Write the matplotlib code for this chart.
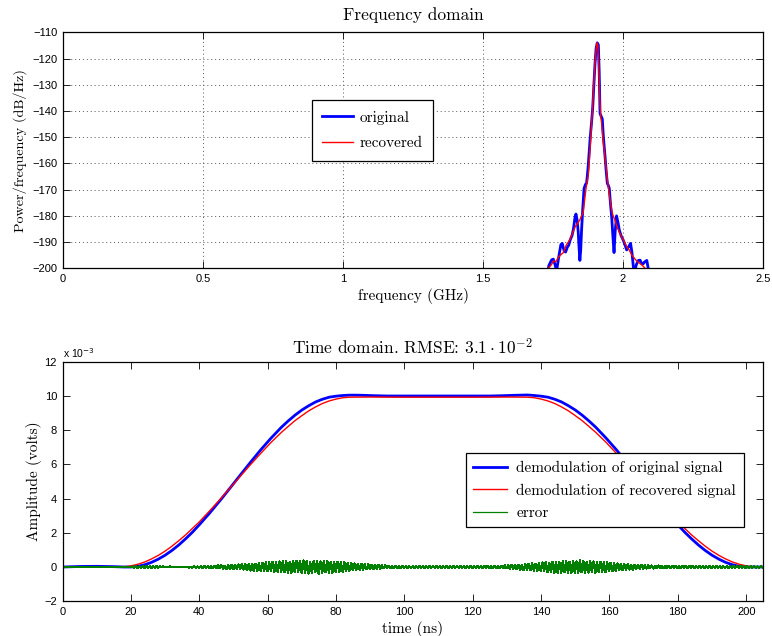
import numpy as np
import matplotlib
matplotlib.use("Agg")
import matplotlib.pyplot as plt

plt.rcParams["mathtext.fontset"] = "cm"
plt.rcParams["axes.unicode_minus"] = True

# ---------------- frequency-domain data (GHz, dB/Hz) ----------------
freq_orig = [1.720, 1.735, 1.745, 1.751, 1.757, 1.763, 1.770, 1.778, 1.783, 1.790,
             1.795, 1.801, 1.806, 1.812, 1.818, 1.823, 1.828, 1.832, 1.836, 1.840,
             1.843, 1.846, 1.849, 1.852, 1.857, 1.861, 1.866, 1.870, 1.875, 1.879,
             1.883, 1.888, 1.892, 1.896, 1.900, 1.904, 1.908, 1.912, 1.915, 1.918,
             1.922, 1.926, 1.930, 1.936, 1.940, 1.944, 1.948, 1.951, 1.955, 1.960,
             1.964, 1.968, 1.972, 1.977, 1.982, 1.987, 1.993, 2.001, 2.007, 2.013,
             2.020, 2.027, 2.032, 2.037, 2.042, 2.048, 2.055, 2.061, 2.066, 2.072,
             2.078, 2.085, 2.090, 2.100]
psd_orig = [-212, -199, -196.8, -196.5, -198.5, -201, -196, -191, -190.5, -193.5,
            -193.8, -192, -191.2, -189, -187.5, -185, -181, -179.3, -181.5, -186,
            -192, -197, -193, -185.5, -176, -169.5, -168, -167.5, -162, -156,
            -150, -144, -138.5, -130, -122, -116, -114, -114.8, -125, -141,
            -142, -143, -150, -157.5, -163, -167.6, -168.5, -169.5, -175, -181,
            -188, -194, -186, -180, -182.5, -185.5, -187.5, -189.3, -191, -193,
            -191.8, -190.5, -194, -199.5, -201, -198.5, -197, -196.9, -198, -198.3,
            -197.5, -197, -200, -212]

freq_rec = [1.728, 1.734, 1.745, 1.752, 1.760, 1.768, 1.776, 1.787, 1.798, 1.811,
            1.820, 1.830, 1.840, 1.846, 1.852, 1.858, 1.864, 1.868, 1.872, 1.876,
            1.880, 1.885, 1.890, 1.895, 1.900, 1.904, 1.907, 1.910, 1.913, 1.917,
            1.920, 1.923, 1.927, 1.932, 1.938, 1.944, 1.950, 1.956, 1.963, 1.971,
            1.978, 1.986, 1.995, 2.003, 2.012, 2.022, 2.032, 2.043, 2.052, 2.061,
            2.070, 2.079, 2.088]
psd_rec = [-205, -200, -198.5, -197.2, -197.5, -196, -195, -194, -191, -189,
           -186.5, -184, -182.5, -181.5, -180, -178.5, -173, -169.5, -167, -164.5,
           -158.5, -150, -141, -131, -121.5, -116.5, -114, -115, -122, -135,
           -142, -144, -149, -154, -160, -166, -171, -175.5, -179.5, -181.5,
           -184, -186, -188, -189.5, -191.5, -193, -195, -196.5, -197.5, -198.2,
           -199, -200, -204]

freq_ticks = [0, 0.5, 1, 1.5, 2, 2.5]
freq_tick_labels = ["0", "0.5", "1", "1.5", "2", "2.5"]
psd_ticks = [-200, -190, -180, -170, -160, -150, -140, -130, -120, -110]

# ---------------- time-domain data (ns, units of 1e-3 V) ----------------
t_orig = [0, 5, 10, 15, 18, 20, 22, 24, 26, 28, 30, 32, 34, 36, 38, 40, 43, 46,
          49, 52, 55, 58, 61, 64, 66, 68, 70, 72, 74, 76, 78, 80, 82, 84, 86, 88,
          91, 95, 100, 110, 120, 125, 129, 132, 134, 136, 138, 140, 142, 144, 146,
          148, 150, 152, 154, 156, 159, 162, 165, 168, 171, 174, 177, 180, 182,
          184, 186, 188, 190, 192, 194, 196, 198, 200, 204.8]
amp_orig = [0.0, 0.03, 0.04, 0.02, 0.0, 0.0, 0.04, 0.13, 0.27, 0.46, 0.69, 0.97,
            1.29, 1.65, 2.04, 2.47, 3.15, 3.87, 4.62, 5.38, 6.13, 6.86, 7.54,
            8.17, 8.54, 8.88, 9.18, 9.43, 9.65, 9.81, 9.93, 9.99, 10.03, 10.05,
            10.05, 10.04, 10.02, 10.0, 10.0, 10.0, 10.0, 10.0, 10.02, 10.04, 10.05,
            10.06, 10.03, 9.99, 9.93, 9.81, 9.65, 9.43, 9.18, 8.88, 8.54, 8.17,
            7.54, 6.86, 6.13, 5.38, 4.62, 3.87, 3.15, 2.47, 2.04, 1.65, 1.29, 0.97,
            0.69, 0.46, 0.27, 0.13, 0.04, 0.0, 0.0]

t_rec = [0, 10, 16, 18, 20, 22, 24, 26, 28, 30, 32, 34, 36, 38, 40, 43, 46, 49,
         52, 55, 58, 61, 64, 66, 68, 70, 72, 74, 76, 78, 80, 82, 84, 90, 100,
         110, 120, 130, 136, 138, 140, 142, 144, 146, 148, 150, 152, 154, 156,
         159, 162, 165, 168, 171, 174, 177, 180, 182, 184, 186, 188, 190, 192,
         194, 196, 198, 200, 202, 204.8]
amp_rec = [0.0, 0.0, 0.0, 0.012, 0.065, 0.16, 0.29, 0.47, 0.68, 0.93, 1.22, 1.54,
           1.88, 2.26, 2.64, 3.28, 3.94, 4.62, 5.31, 5.99, 6.65, 7.29, 7.87, 8.22,
           8.56, 8.85, 9.13, 9.36, 9.56, 9.71, 9.82, 9.90, 9.93, 9.94, 9.93, 9.93,
           9.93, 9.94, 9.93, 9.90, 9.82, 9.71, 9.56, 9.36, 9.13, 8.85, 8.56, 8.22,
           7.87, 7.29, 6.65, 5.99, 5.31, 4.62, 3.94, 3.28, 2.64, 2.26, 1.88, 1.54,
           1.22, 0.93, 0.68, 0.47, 0.29, 0.16, 0.065, 0.012, 0.0]

# error trace, uniformly sampled over 0..204.8 ns, units of 1e-5 V
err_e5 = [
    0, 1, -1, 1, -1, 1, -1, 1, -1, 1, -1, 1, -1, 1, -1, 1, -1, 1, -1, 1, -1,
    1, -1, 1, -1, 1, -1, 1, -1, 1, -1, 1, -1, 1, -1, 1, -1, 1, -1, 2, -2,
    3, -4, 4, -5, 3, -5, 4, -4, 5, -3, 4, -5, 4, -3, 4, -3, 3, -2, 3, -2,
    2, -2, 3, -2, 2, -2, 1, -2, 2, -1, 2, -2, 2, -3, 2, -3, 3, -4, 3, -3,
    4, -5, 5, -6, 5, -7, 6, -8, 7, -8, 9, -7, 10, -9, 8, -11, 10, -12, 11, -12,
    13, -12, 15, -14, 17, -15, 18, -20, 17, -21, 19, -22, 20, -24, 21, -23, 25, -22, 26, -24,
    27, -24, 29, -30, 26, -31, 33, -28, 35, -30, 32, -36, 29, -33, 37, -31, 34, -29, 36, -33,
    38, -32, 35, -39, 30, -36, 34, -31, 37, -40, 32, -35, 33, -30, 36, -33, 29, -34, 31, -30,
    28, -30, 26, -27, 29, -24, 25, -22, 24, -20, 21, -19, 20, -17, 18, -16, 15, -14, 15, -13,
    13, -12, 11, -12, 10, -9, 10, -8, 9, -8, 7, -8, 6, -7, 6, -6, 5, -6, 5, -5,
    5, -4, 5, -5, 4, -5, 4, -4, 5, -4, 4, -5, 4, -4, 5, -4, 4, -5, 4, -4,
    4, -5, 4, -4, 5, -4, 4, -5, 4, -4, 5, -4, 5, -4, 4, -5, 4, -5, 5, -5,
    5, -5, 6, -5, 6, -6, 5, -6, 7, -6, 6, -7, 6, -7, 7, -8, 7, -8, 9, -8,
    9, -10, 11, -10, 12, -13, 12, -15, 14, -17, 16, -18, 20, -17, 21, -22, 19, -24, 22, -23,
    26, -24, 28, -30, 25, -31, 29, -33, 30, -35, 28, -34, 36, -30, 33, -37, 31, -34, 36, -32,
    33, -35, 38, -31, 34, -36, 30, -33, 35, -29, 32, -34, 28, -31, 30, -27, 29, -28, 26, -25,
    24, -25, 22, -23, 21, -20, 19, -18, 17, -16, 17, -15, 14, -15, 13, -12, 13, -11, 12, -11,
    10, -9, 10, -8, 9, -9, 8, -8, 9, -7, 8, -8, 7, -8, 7, -7, 8, -6, 7, -7,
    6, -7, 6, -6, 7, -5, 6, -6, 5, -6, 6, -5, 6, -5, 5, -6, 5, -5, 6, -6,
    5, -5, 6, -4, 5, -5, 4, -5, 5, -4, 4, -5, 4, -4, 5, -4, 4, -4, 4, -4,
    4, -3, 4, -3, 3, -4, 3, -3, 3, -3,
]

time_ticks = [0, 20, 40, 60, 80, 100, 120, 140, 160, 180, 200]
amp_ticks = [-2, 0, 2, 4, 6, 8, 10, 12]

# ---------------- figure ----------------
W, H = 772, 636
fig = plt.figure(figsize=(W / 100, H / 100), dpi=100)
ax1 = fig.add_axes([63 / W, 1 - 268.3 / H, 700 / W, 236 / H])
ax2 = fig.add_axes([62.6 / W, 1 - 601.2 / H, 700 / W, 239.4 / H])

SERIF = "cmr10"
SANS = "Liberation Sans"


def style_axes(ax):
    ax.tick_params(direction="in", top=True, right=True, length=5, width=0.6,
                   labelsize=8, pad=4)
    for lab in ax.get_xticklabels() + ax.get_yticklabels():
        lab.set_fontfamily(SANS)
    for sp in ax.spines.values():
        sp.set_linewidth(0.9)


# top panel: power spectral density
ax1.plot(freq_orig, psd_orig, color=(0, 0, 1), lw=2.0, label="original")
ax1.plot(freq_rec, psd_rec, color=(1, 0, 0), lw=1.0, label="recovered")
ax1.set_xlim(0, 2.5)
ax1.set_ylim(-200, -110)
ax1.set_xticks(freq_ticks)
ax1.set_xticklabels(freq_tick_labels)
ax1.set_yticks(psd_ticks)
ax1.set_yticklabels([f"\u2212{abs(v)}" for v in psd_ticks])
ax1.grid(True, linestyle=(0, (1, 3)), color="#555555", lw=0.7)
style_axes(ax1)
ax1.set_title("Frequency domain", fontfamily=SERIF, fontsize=12.5, pad=9)
ax1.set_xlabel("frequency (GHz)", fontfamily=SERIF, fontsize=11, labelpad=3)
ax1.set_ylabel("Power/frequency (dB/Hz)", fontfamily=SERIF, fontsize=10.2, labelpad=4)
leg1 = ax1.legend(loc="upper left", bbox_to_anchor=(0.355, 0.713),
                  borderaxespad=0, prop={"family": SERIF, "size": 11},
                  fancybox=False, framealpha=1, edgecolor="black",
                  handlelength=2.0, handletextpad=0.45, borderpad=0.7,
                  labelspacing=0.75)
leg1.get_frame().set_linewidth(0.9)

# bottom panel: demodulated signals and error
err_vals = np.array(err_e5) / 100.0
err_t = np.linspace(0, 204.8, len(err_vals))
ax2.plot(t_orig, amp_orig, color=(0, 0, 1), lw=2.0,
         label="demodulation of original signal")
ax2.plot(t_rec, amp_rec, color=(1, 0, 0), lw=1.0,
         label="demodulation of recovered signal")
ax2.plot(err_t, err_vals, color=(0, 0.5, 0), lw=0.9, antialiased=False,
         label="error")
ax2.set_xlim(0, 204.8)
ax2.set_ylim(-2, 12)
ax2.set_xticks(time_ticks)
ax2.set_yticks(amp_ticks)
ax2.set_yticklabels([("\u2212" + str(abs(v))) if v < 0 else str(v) for v in amp_ticks])
style_axes(ax2)
ax2.set_title("Time domain. RMSE: $3.1\\cdot10^{-2}$", fontfamily=SERIF,
              fontsize=12.5, pad=5)
ax2.set_xlabel("time (ns)", fontfamily=SERIF, fontsize=11, labelpad=3)
ax2.set_ylabel("Amplitude (volts)", fontfamily=SERIF, fontsize=11, labelpad=2)
ax2.text(0.0, 1.008, "x 10$^{-3}$", transform=ax2.transAxes, ha="left",
         va="bottom", fontsize=7.5, fontfamily=SANS, math_fontfamily="dejavusans")
leg2 = ax2.legend(loc="upper left", bbox_to_anchor=(0.576, 0.618),
                  borderaxespad=0, prop={"family": SERIF, "size": 11},
                  fancybox=False, framealpha=1, edgecolor="black",
                  handlelength=2.2, handletextpad=0.6, borderpad=0.5,
                  labelspacing=0.55)
leg2.get_frame().set_linewidth(0.9)

fig.savefig("out.png", dpi=100)
